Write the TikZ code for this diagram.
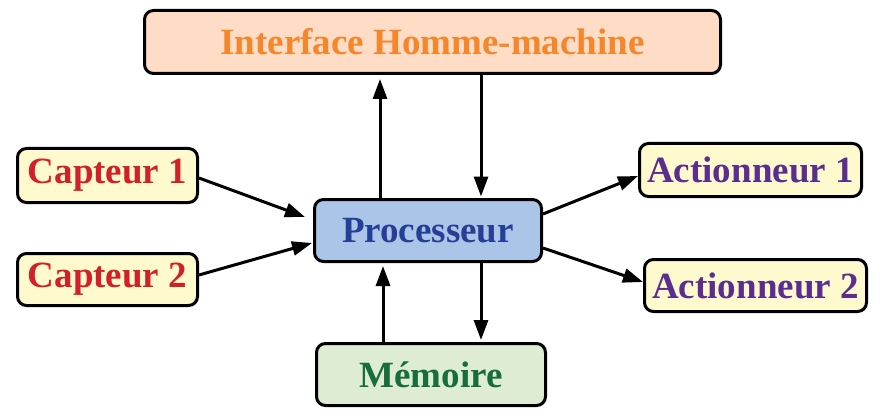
\documentclass[tikz,border=0pt]{standalone}
\usepackage{fontspec}
\setmainfont{Liberation Serif}
\usetikzlibrary{arrows.meta}
\definecolor{ihmfill}{HTML}{FFDCC6}
\definecolor{ihmtext}{HTML}{F5862A}
\definecolor{capfill}{HTML}{FFFACD}
\definecolor{captext}{HTML}{D2202A}
\definecolor{procfill}{HTML}{ABC5E8}
\definecolor{proctext}{HTML}{263F96}
\definecolor{acttext}{HTML}{5B2D8E}
\definecolor{memfill}{HTML}{DEECD4}
\definecolor{memtext}{HTML}{186D3C}
\begin{document}
\begin{tikzpicture}[x=1pt,y=-1pt,
  box/.style={draw=black, line width=3pt, rounded corners=9pt, inner sep=0pt,
    font=\fontsize{37}{40}\selectfont\bfseries},
  arr/.style={line width=3pt, -{Triangle[length=20pt,width=14pt]}}]
\useasboundingbox (0,0) rectangle (886,417);
\node[box, fill=ihmfill, text=ihmtext, minimum width=576pt, minimum height=63pt] (ihm) at (432.5,42) {Interface Homme-machine};
\node[box, fill=capfill, text=captext, minimum width=180pt, minimum height=54pt] (cap1) at (107.5,175.5) {Capteur 1};
\node[box, fill=capfill, text=captext, minimum width=180pt, minimum height=52pt] (cap2) at (107.5,279.5) {Capteur 2};
\node[box, fill=procfill, text=proctext, minimum width=227pt, minimum height=62pt] (proc) at (428,230.5) {Processeur};
\node[box, fill=capfill, text=acttext, minimum width=222pt, minimum height=53pt] (act1) at (750.5,170) {Actionneur 1};
\node[box, fill=capfill, text=acttext, minimum width=222pt, minimum height=52pt] (act2) at (755.5,285.5) {Actionneur 2};
\node[box, fill=memfill, text=memtext, minimum width=229pt, minimum height=62pt] (mem) at (431,374.5) {Mémoire};
% vertical connectors
\draw[arr, shorten >=4pt] ([xshift=-48pt]proc.north) -- ([xshift=-48pt]proc.north |- ihm.south);
\draw[arr, shorten >=1.5pt] ([xshift=48.5pt]ihm.south) -- ([xshift=48.5pt]ihm.south |- proc.north);
\draw[arr, shorten >=2pt] ([xshift=53pt]proc.south) -- ([xshift=53pt]proc.south |- mem.north);
\draw[arr, shorten >=3pt] ([xshift=-48pt]mem.north) -- ([xshift=-48pt]mem.north |- proc.south);
% sensors
\draw[arr] ([yshift=-2.5pt]cap1.east) -- ([shift={(-8pt,13.5pt)}]proc.west);
\draw[arr] ([yshift=4.5pt]cap2.east) -- ([shift={(-1pt,-12.5pt)}]proc.west);
% actuators
\draw[arr] ([yshift=16.5pt]proc.east) -- ([yshift=-6pt]act1.west);
\draw[arr] ([yshift=-17.5pt]proc.east) -- ([yshift=3.5pt]act2.west);
\end{tikzpicture}
\end{document}
